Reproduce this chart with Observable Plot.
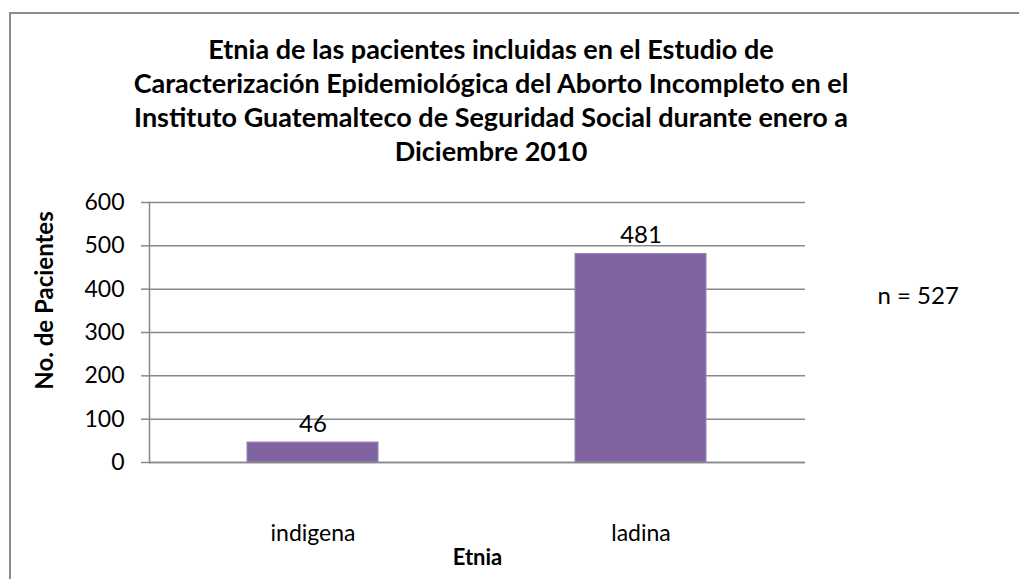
<!DOCTYPE html>
<html>
<head>
<meta charset="utf-8">
<script src="https://cdn.jsdelivr.net/npm/d3@7"></script>
<script src="https://cdn.jsdelivr.net/npm/@observablehq/plot@0.6"></script>
<style>
  html, body { margin: 0; padding: 0; background: #fff; }
  body { width: 1019px; height: 579px; position: relative; overflow: hidden; font-family: "Lato", "Open Sans", sans-serif; }
  #box { position: absolute; left: 9px; top: 12px; width: 1100px; height: 700px; border: 2.5px solid #8c8c8c; box-sizing: border-box; }
  #title { position: absolute; left: 0; top: 32px; width: 982px; text-align: center; font-weight: bold; font-size: 27px; line-height: 34px; color: #000; }
  #chart { position: absolute; left: 0; top: 185px; }
</style>
</head>
<body>
<div id="box"></div>
<div id="title">Etnia de las pacientes incluidas en el Estudio de<br>Caracterización Epidemiológica del Aborto Incompleto en el<br>Instituto Guatemalteco de Seguridad Social durante enero a<br>Diciembre 2010</div>
<div id="chart"></div>
<script>
const categories = ["indigena", "ladina"];
const values = [46, 481];
const yTicks = [0, 100, 200, 300, 400, 500, 600];
const yLabel = "No. de Pacientes";
const xLabel = "Etnia";
const note = "n = 527";

const data = categories.map((c, i) => ({etnia: c, n: values[i]}));
const gray = "#898989";

const plot = Plot.plot({
  width: 1019,
  height: 394,
  marginLeft: 149,
  marginRight: 214,
  marginTop: 17,
  marginBottom: 117,
  style: {fontFamily: "Lato, 'Open Sans', sans-serif", fontSize: "22px", color: "#000", background: "transparent", overflow: "visible"},
  x: {domain: categories, paddingInner: 0.6, paddingOuter: 0.3, label: null},
  y: {domain: [0, 600], label: null},
  marks: [
    Plot.gridY(yTicks, {stroke: gray, strokeOpacity: 1, strokeWidth: 1.5}),
    Plot.axisY(yTicks, {tickSize: 8, tickPadding: 17, stroke: gray, strokeWidth: 1.5, fontSize: 23, fill: "#000", label: null}),
    Plot.axisX({tickSize: 0, tickPadding: 62, fontSize: 23, fill: "#000", label: null}),
    Plot.barY(data, {x: "etnia", y: "n", fill: "#8064A2", stroke: "#9582b3", strokeWidth: 1}),
    Plot.frame({anchor: "left", stroke: gray, strokeWidth: 1.5}),
    Plot.ruleY([0], {stroke: gray, strokeWidth: 1.5}),
    Plot.text(data, {x: "etnia", y: "n", text: d => String(d.n), dy: -11, lineAnchor: "bottom", fontSize: 24, fill: "#000"}),
    Plot.text([yLabel], {frameAnchor: "left", textAnchor: "middle", rotate: -90, dx: -104, dy: -32, fontWeight: "bold", fontSize: 24, fill: "#000"}),
    Plot.text([xLabel], {frameAnchor: "bottom", dy: 102, fontWeight: "bold", fontSize: 22, fill: "#000"}),
    Plot.text([note], {frameAnchor: "right", dx: 72, dy: -36, textAnchor: "start", fontSize: 24, fill: "#000"})
  ]
});
document.getElementById("chart").appendChild(plot);
</script>
</body>
</html>
